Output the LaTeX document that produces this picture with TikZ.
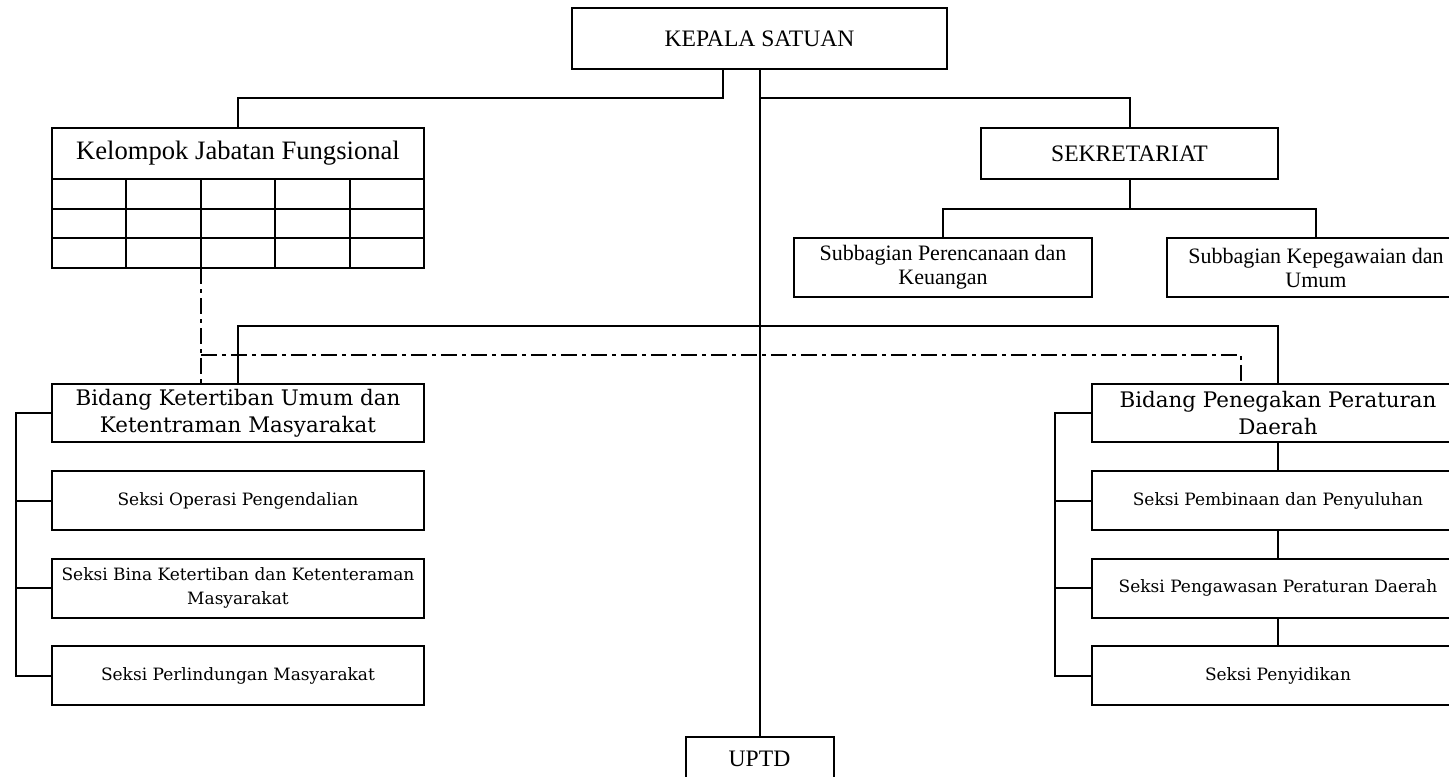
\documentclass[tikz,border=0pt]{standalone}
\usepackage{fontspec}
\setmainfont{DejaVu Serif}
\newfontfamily\timesfont{Liberation Serif}
\usetikzlibrary{positioning}

\begin{document}
\begin{tikzpicture}[
    x=0.5pt, y=-0.5pt,
    line width=1pt,
    box/.style={rectangle, draw, inner sep=0pt, align=center},
    headbox/.style={box, font=\timesfont\fontsize{11.8}{13}\selectfont},
    subbox/.style={box, minimum width=149pt, minimum height=29.5pt, font=\timesfont\fontsize{11}{12}\selectfont},
    fieldbox/.style={box, minimum width=186pt, minimum height=29pt, font=\fontsize{10.7}{13.6}\selectfont},
    sectbox/.style={box, minimum width=186pt, minimum height=29.5pt, font=\fontsize{8.5}{11.6}\selectfont},
    dashdot/.style={dash pattern=on 8pt off 2.5pt on 2pt off 2.5pt}
]
\useasboundingbox (0,0) rectangle (1449,776);

% top level
\node[headbox, minimum width=187.5pt, minimum height=30.5pt] (kepala) at (759.5,38.5) {KEPALA SATUAN};
\node[box, minimum width=186pt, minimum height=25.5pt, font=\timesfont\fontsize{13.3}{15}\selectfont] (kjf) at (238,153.5) {Kelompok Jabatan Fungsional};
\node[headbox, minimum width=148.5pt, minimum height=25.5pt] (sekre) at (1129.5,153.5) {SEKRETARIAT};
\node[subbox] (sub1) at (943,267.5) {Subbagian Perencanaan dan\\Keuangan};
\node[subbox] (sub2) at (1316,267.5) {Subbagian Kepegawaian dan\\Umum};
\node[headbox, minimum width=74pt, minimum height=21.5pt] (uptd) at (759.5,758.5) {UPTD};

% grid under Kelompok Jabatan Fungsional
\foreach \r in {0,1,2} {
  \foreach \c in {0,...,4} {
    \draw (52+74.4*\c,179+29.67*\r) rectangle ++(74.4,29.67);
  }
}
\coordinate (kjfgrid) at (200.8,268);

% bidang
\node[fieldbox] (bidL) at (238,413) {Bidang Ketertiban Umum dan\\Ketentraman Masyarakat};
\node[fieldbox] (bidR) at (1278,413) {Bidang Penegakan Peraturan\\Daerah};

% seksi
\node[sectbox] (sL1) at (238,500.5) {Seksi Operasi Pengendalian};
\node[sectbox] (sL2) at (238,588) {Seksi Bina Ketertiban dan Ketenteraman\\Masyarakat};
\node[sectbox] (sL3) at (238,675.5) {Seksi Perlindungan Masyarakat};
\node[sectbox] (sR1) at (1278,500.5) {Seksi Pembinaan dan Penyuluhan};
\node[sectbox] (sR2) at (1278,588) {Seksi Pengawasan Peraturan Daerah};
\node[sectbox] (sR3) at (1278,675.5) {Seksi Penyidikan};

% buses
\coordinate (busA) at (0,98);
\coordinate (busB) at (0,209);
\coordinate (busC) at (0,326);
\coordinate (busD) at (0,355);
\coordinate (railL) at (16,0);
\coordinate (railR) at (1055,0);

% connectors
\draw (kepala.south) -- (uptd.north);
\draw ([xshift=-18.5pt]kepala.south) |- (busA -| kjf.north) -- (kjf.north);
\draw (kepala.south) |- (busA -| sekre.north) -- (sekre.north);
\draw (sekre.south) -- (busB -| sekre.south);
\draw (sub1.north) |- (busB -| sekre.south) -| (sub2.north);
\draw (bidL.north) |- (busC -| kepala.south) -| (bidR.north);

\draw[dashdot] (kjfgrid) -- (kjfgrid |- bidL.north);
\draw[dashdot] (kjfgrid |- busD) -| ([xshift=-18.5pt]bidR.north);

\draw (bidL.west) -| (railL |- sL3.west) -- (sL3.west);
\foreach \n in {sL1,sL2} \draw (\n.west) -- (railL |- \n.west);
\draw (bidR.west) -| (railR |- sR3.west) -- (sR3.west);
\foreach \n in {sR1,sR2} \draw (\n.west) -- (railR |- \n.west);
\draw (bidR.south) -- (sR1.north);
\draw (sR1.south) -- (sR2.north);
\draw (sR2.south) -- (sR3.north);
\end{tikzpicture}
\end{document}
